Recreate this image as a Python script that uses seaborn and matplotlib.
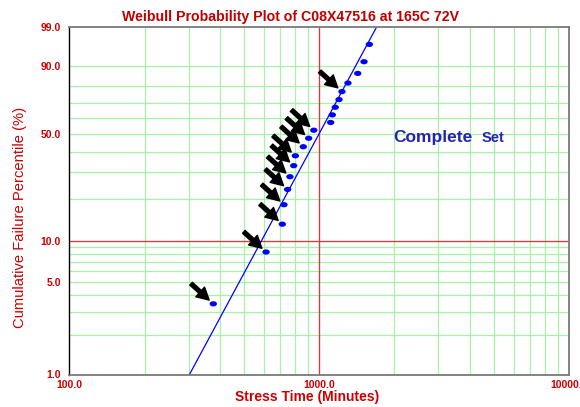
import numpy as np
import pandas as pd
import matplotlib
matplotlib.use("Agg")
import matplotlib.pyplot as plt
from matplotlib.ticker import FixedLocator, FixedFormatter, NullLocator
import seaborn as sns

# Failure times (minutes) and their median-rank percentiles
stress_minutes = [377, 613, 712, 723, 748, 764, 791, 803, 864, 908, 952,
                  1112, 1129, 1160, 1201, 1234, 1304, 1427, 1512, 1588]
failure_pct = [3.43, 8.33, 13.24, 18.14, 23.04, 27.94, 32.84, 37.75, 42.65,
               47.55, 52.45, 57.35, 62.25, 67.16, 72.06, 76.96, 81.86, 86.76,
               91.67, 96.57]
# Units called out with an arrow
flagged = [1, 1, 1, 1, 1, 1, 1, 1, 1, 1, 1, 0, 0, 0, 0, 1, 0, 0, 0, 0]

# Weibull fit parameters
beta = 3.55
eta = 1106.0

x_ticks = [100, 1000, 10000]
x_tick_labels = ["100.0", "1000.0", "10000.0"]
y_ticks = [1, 5, 10, 50, 90, 99]
y_tick_labels = ["1.0", "5.0", "10.0", "50.0", "90.0", "99.0"]
x_grid = [200, 300, 400, 500, 600, 700, 800, 900,
          2000, 3000, 4000, 5000, 6000, 7000, 8000, 9000]
y_grid = [2, 3, 4, 5, 6, 7, 8, 9, 20, 30, 40, 50, 60, 70, 80, 90]

RED = "#CC0000"
BLUE_TXT = "#2424B0"

sns.set_style("white")
plt.rcParams["font.family"] = ["Liberation Sans", "DejaVu Sans"]


def weibull_fwd(p):
    p = np.clip(np.asarray(p, dtype=float), 1e-6, 100 - 1e-6) / 100.0
    return np.log(-np.log(1.0 - p))


def weibull_inv(w):
    return 100.0 * (1.0 - np.exp(-np.exp(w)))


fig = plt.figure(figsize=(5.8, 4.07), dpi=100)
ax = fig.add_axes([69.3 / 580, 1 - 374.5 / 407, (569 - 69.3) / 580, (374.5 - 26.7) / 407])

ax.set_xscale("log")
ax.set_yscale("function", functions=(weibull_fwd, weibull_inv))
ax.set_xlim(100, 10000)
ax.set_ylim(1, 99)

# Grid lines
for gx in x_grid:
    ax.axvline(gx, color="#A6F2A6", lw=0.9, zorder=0)
for gy in y_grid:
    ax.axhline(gy, color="#A6F2A6", lw=0.9, zorder=0)
ax.axvline(1000, color="#C84444", lw=1.0, zorder=0.5)
ax.axhline(10, color="#C84444", lw=1.0, zorder=0.5)

# Fitted Weibull line
fit_pct = np.array([0.5, 99.5])
fit_t = eta * (-np.log(1 - fit_pct / 100.0)) ** (1.0 / beta)
fit_df = pd.DataFrame({"t": fit_t, "pct": fit_pct})
sns.lineplot(data=fit_df, x="t", y="pct", ax=ax, color="#0000FF", lw=0.9,
             zorder=2, sort=False)

# Data points (slightly wide ellipses)
theta = np.linspace(0, 2 * np.pi, 40)
ellipse = list(zip(1.4 * np.cos(theta), np.sin(theta)))
pts = pd.DataFrame({"t": stress_minutes, "pct": failure_pct})
sns.scatterplot(data=pts, x="t", y="pct", ax=ax, marker=ellipse, s=28,
                color="#0000FF", edgecolor="none", linewidth=0, zorder=3)

# Arrows pointing at the flagged units
for t, p, f in zip(stress_minutes, failure_pct, flagged):
    if f:
        ax.annotate("", xy=(t, p), xytext=(-16, 14.5), textcoords="offset points",
                    arrowprops=dict(arrowstyle="simple,head_length=0.7,head_width=0.75,tail_width=0.22",
                                    mutation_scale=12.5, color="black",
                                    shrinkA=0, shrinkB=4.0),
                    zorder=4)

# Axes styling
ax.xaxis.set_major_locator(FixedLocator(x_ticks))
ax.xaxis.set_major_formatter(FixedFormatter(x_tick_labels))
ax.xaxis.set_minor_locator(NullLocator())
ax.yaxis.set_major_locator(FixedLocator(y_ticks))
ax.yaxis.set_major_formatter(FixedFormatter(y_tick_labels))
ax.yaxis.set_minor_locator(NullLocator())
ax.tick_params(axis="both", which="major", direction="out", length=2.5, width=0.8,
               color="black", labelcolor=RED, labelsize=7.5)
ax.tick_params(axis="y", pad=3.5)
ax.tick_params(axis="x", pad=1.5)
for lab in ax.get_xticklabels() + ax.get_yticklabels():
    lab.set_fontweight("bold")
ax.set_xlabel("")
ax.set_ylabel("")
for side in ["top", "right", "bottom"]:
    ax.spines[side].set_color("#7A7A7A")
    ax.spines[side].set_linewidth(1.3)
ax.spines["left"].set_color("black")
ax.spines["left"].set_linewidth(1.0)

# Titles and labels
fig.text(0.5, 1 - 17 / 407, "Weibull Probability Plot of C08X47516 at 165C 72V",
         color="#C00000", fontsize=10.2, fontweight="bold", ha="center", va="center")
fig.text(20 / 580, 1 - 217 / 407, "Cumulative Failure Percentile (%)", color=RED,
         fontsize=10.6, rotation=90, ha="center", va="center")
fig.text(307.5 / 580, 1 - 397.5 / 407, "Stress Time (Minutes)", color=RED,
         fontsize=10, fontweight="bold", ha="center", va="center")
fig.text(393 / 580, 1 - 142.3 / 407, "Complete", color=BLUE_TXT, fontsize=12.5,
         fontweight="bold", ha="left", va="baseline")
fig.text(481.7 / 580, 1 - 142.3 / 407, "Set", color=BLUE_TXT, fontsize=10.5,
         fontweight="bold", ha="left", va="baseline")

fig.savefig("out.png", dpi=100)
